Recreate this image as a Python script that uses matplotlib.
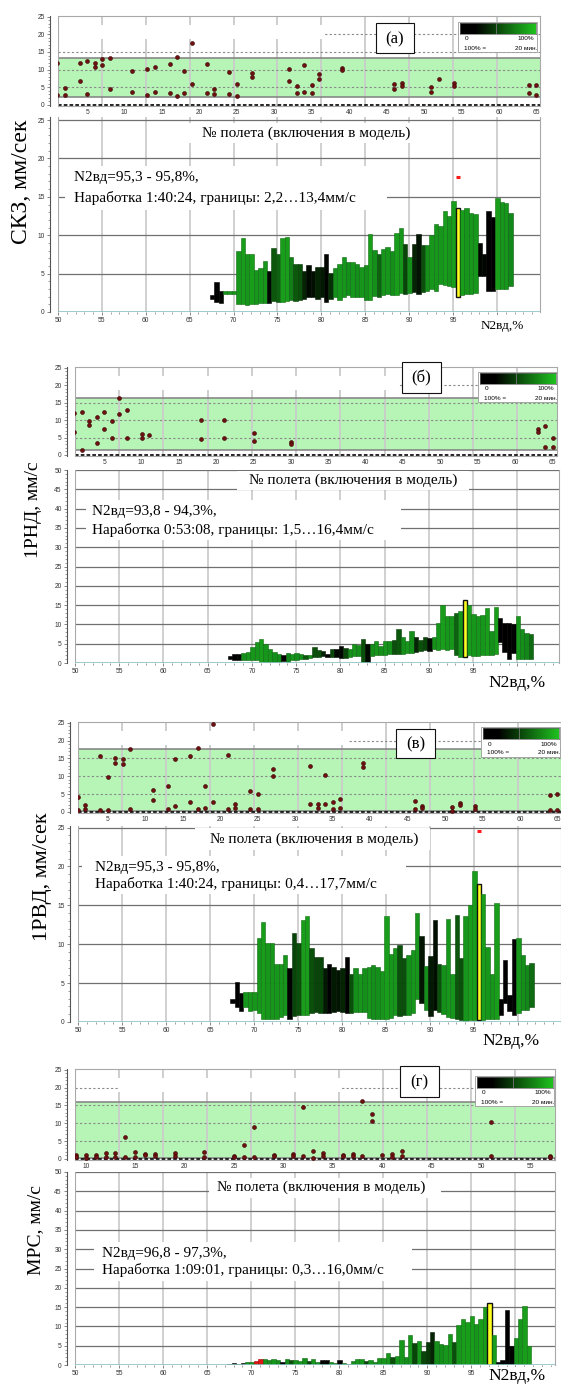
import numpy as np
import matplotlib
matplotlib.use('Agg')
import matplotlib.pyplot as plt
from matplotlib.patches import Rectangle
from matplotlib.colors import LinearSegmentedColormap
from matplotlib.ticker import MultipleLocator

# ---------------- DATA ----------------
# (а) СКЗ
a_flight = [1, 1, 2, 2, 4, 4, 5, 5, 6, 6, 7, 7, 8, 8, 11, 11, 13, 13, 14, 14, 16, 16, 17, 17, 18, 18,
            19, 19, 21, 21, 22, 22, 24, 24, 25, 25, 27, 27, 32, 32, 33, 33, 34, 34, 35, 35, 36, 36,
            39, 39, 46, 46, 47, 47, 51, 51, 52, 54, 54, 64, 64, 65, 65]
a_value = [12.0, 2.8, 4.7, 2.8, 12.0, 6.9, 12.5, 3.1, 12.0, 10.7, 12.9, 11.3, 13.2, 4.4, 9.5, 3.8,
           10.1, 2.9, 10.8, 3.7, 11.5, 3.3, 13.5, 2.5, 9.6, 3.3, 17.6, 6.0, 11.7, 3.3, 4.6, 3.1,
           9.3, 3.1, 5.9, 2.6, 9.0, 7.9, 10.1, 6.9, 5.5, 3.3, 11.2, 3.8, 5.6, 3.3, 8.8, 7.3,
           10.4, 9.9, 6.0, 4.4, 6.1, 5.5, 5.2, 3.8, 7.4, 6.1, 5.4, 5.6, 3.4, 5.6, 2.7]
a_bounds = (2.2, 13.4)
a_start = 67.3
a_hi = [2.2, 3.9, 2.8, 2.8, 2.8, 2.8, 7.9, 9.6, 7.6, 7.6, 5.5, 5.7, 6.6, 5.3, 8.4, 7.5, 9.6, 9.8,
        7.2, 6.3, 6.3, 5.3, 6.1, 5.3, 5.9, 5.8, 7.5, 5.1, 5.7, 6.2, 7.2, 6.5, 6.5, 6.3, 5.9, 6.1,
        10.2, 8.1, 7.6, 8.2, 8.5, 7.9, 10.3, 11.0, 8.8, 7.2, 8.9, 10.1, 8.7, 8.7, 10.0, 11.4, 11.2,
        13.1, 12.5, 14.5, 13.5, 13.3, 13.5, 12.9, 12.75, 9.0, 7.6, 13.2, 12.4, 14.8, 14.3, 14.2, 12.9]
a_lo = [1.75, 1.3, 1.2, 2.4, 2.4, 2.4, 1.1, 1.0, 0.96, 1.1, 1.1, 1.2, 1.2, 1.2, 1.4, 1.3, 1.3, 1.4,
        1.5, 1.4, 1.5, 1.75, 1.9, 2.0, 1.75, 2.0, 1.3, 1.75, 1.9, 1.5, 2.0, 2.2, 2.0, 2.0, 1.9, 1.6,
        1.6, 2.05, 2.0, 2.2, 2.3, 2.2, 2.2, 2.5, 2.4, 2.5, 2.6, 2.3, 2.6, 2.8, 3.0, 2.8, 3.6,
        3.5, 3.4, 3.3, 2.0, 2.2, 2.3, 2.4, 2.5, 4.7, 4.7, 2.75, 2.8, 3.0, 3.05, 3.0, 3.4]
a_time = [0.0, 0.0, 0.05, 0.9, 0.9, 0.9, 0.9, 0.95, 0.9, 0.95, 0.9, 0.9, 0.9, 0.05, 0.55, 0.6, 0.95, 0.95,
          0.75, 0.55, 0.5, 0.3, 0.1, 0.15, 0.3, 0.25, 0.05, 0.35, 0.85, 0.9, 0.9, 0.85, 0.9, 0.85, 0.9, 0.85,
          0.95, 0.85, 0.6, 0.9, 0.9, 0.85, 0.95, 0.9, 0.45, 0.85, 0.3, 0.2, 0.5, 0.85, 0.9, 0.9, 0.9,
          0.95, 0.9, 0.95, 1.0, 0.95, 0.9, 0.9, 0.9, 0.05, 0.05, 0.0, 0.0, 0.95, 0.9, 0.9, 0.8]
a_current = 56
a_marker = (95.55, 17.6)

# (б) 1РНД
b_flight = [1, 1, 2, 2, 3, 3, 4, 4, 5, 5, 6, 6, 7, 7, 8, 8, 10, 10, 11, 18, 18, 21, 21, 25, 25, 30, 30,
            63, 63, 64, 64, 65, 65]
b_value = [12.1, 6.7, 12.3, 1.4, 9.8, 8.7, 10.9, 3.5, 12.2, 7.3, 9.7, 5.0, 16.4, 11.7, 13.0, 5.0,
           6.1, 5.0, 5.8, 10.0, 4.5, 10.0, 5.0, 6.2, 4.0, 3.8, 3.1, 7.3, 6.7, 8.3, 2.2, 4.8, 2.2]
b_bounds = (1.5, 16.4)
b_start = 67.3
b_hi = [1.74, 2.26, 2.4, 2.6, 2.9, 4.2, 5.4, 6.1, 4.9, 3.5, 2.9, 2.4, 2.0, 2.7, 2.3, 2.7, 2.4, 2.0,
        2.2, 4.2, 3.3, 3.0, 2.4, 3.7, 3.6, 4.4, 3.9, 3.6, 4.9, 4.6, 6.1, 4.8, 4.8, 5.7, 4.4, 5.7,
        5.7, 5.9, 8.7, 6.8, 5.7, 8.3, 6.8, 5.9, 6.8, 6.6, 6.8, 10.3, 14.9, 12.2, 12.2, 13.0, 13.5,
        16.3, 14.9, 12.6, 12.2, 12.35, 14.2, 8.3, 14.5, 11.7, 10.3, 10.4, 10.0, 12.2, 8.8, 7.9, 7.5]
b_lo = [1.04, 0.7, 0.87, 0.87, 0.7, 0.7, 0.7, 0.26, 0.0, 0.0, 0.0, 0.17, 0.4, 0.26, 0.7, 0.87, 1.1, 1.1,
        1.4, 1.6, 1.6, 1.7, 1.6, 1.6, 1.6, 1.4, 1.4, 1.6, 1.7, 1.9, 0.0, 0.0, 1.8, 2.0, 2.0, 2.0,
        2.3, 2.3, 2.4, 2.4, 2.6, 2.7, 2.9, 3.0, 3.3, 3.1, 3.5, 3.3, 3.5, 3.3, 3.5, 2.0, 1.6,
        1.6, 2.0, 1.7, 1.7, 2.0, 2.0, 2.0, 2.3, 5.5, 2.9, 1.1, 2.6, 1.1, 1.1, 1.1, 1.1]
b_time = [0.0, 0.0, 0.05, 0.85, 0.9, 0.9, 0.9, 0.95, 0.9, 0.9, 0.85, 0.85, 0.0, 0.8, 0.9, 0.85, 0.85, 0.55,
          0.85, 0.5, 0.5, 0.3, 0.0, 0.45, 0.05, 0.05, 0.45, 0.85, 0.9, 0.85, 0.5, 0.1, 0.85, 0.9, 0.85, 0.9,
          0.85, 0.5, 0.55, 0.85, 0.9, 0.85, 0.3, 0.5, 0.45, 0.1, 0.85, 0.9, 0.95, 0.9, 0.9, 0.6, 0.9,
          1.0, 0.95, 0.9, 0.9, 0.9, 0.95, 0.85, 0.95, 0.0, 0.0, 0.0, 0.0, 0.9, 0.85, 0.8, 0.65]
b_current = 53

# (в) 1РВД
c_flight = [1, 1, 2, 2, 4, 4, 5, 5, 6, 6, 7, 7, 8, 8, 11, 11, 13, 13, 14, 14, 16, 16, 17, 17, 18, 18,
            19, 19, 21, 21, 22, 22, 24, 24, 25, 25, 27, 27, 32, 32, 33, 33, 34, 34, 35, 35, 36, 36,
            39, 39, 46, 46, 47, 47, 51, 51, 52, 52, 54, 54, 64, 64, 65, 65]
c_value = [4.1, 0.56, 1.9, 0.84, 15.7, 0.56, 9.7, 0.56, 15.0, 13.7, 14.9, 13.5, 17.6, 0.75, 6.2, 3.4,
           7.4, 0.75, 14.7, 1.6, 15.7, 2.9, 17.9, 0.75, 7.4, 1.0, 24.7, 2.7, 16.0, 0.84, 2.2, 1.0,
           5.9, 0.84, 5.1, 0.75, 12.0, 10.1, 12.9, 2.2, 2.2, 1.0, 10.4, 2.2, 2.9, 0.84, 3.6, 1.0,
           13.6, 12.5, 3.1, 0.84, 1.7, 1.2, 1.3, 0.37, 2.6, 1.9, 1.7, 0.84, 4.7, 0.56, 5.0, 0.56]
c_bounds = (0.4, 17.7)
c_start = 67.3
c_hi = [2.9, 5.2, 3.7, 3.8, 3.8, 3.8, 10.8, 12.9, 10.2, 10.1, 7.4, 7.5, 8.6, 7.0, 11.4, 10.1, 13.1, 13.6,
        9.5, 8.4, 8.3, 7.0, 7.5, 7.1, 6.75, 6.9, 8.3, 6.2, 6.9, 6.15, 6.9, 7.1, 7.3, 7.1, 6.5, 13.6,
        8.7, 9.5, 9.9, 8.2, 8.6, 9.25, 14.0, 11.05, 7.2, 8.5, 13.1, 7.4, 7.3, 13.2, 6.15, 13.8, 8.2,
        13.6, 15.0, 19.4, 17.7, 16.4, 9.6, 6.2, 15.35, 2.9, 8.0, 3.5, 10.7, 10.75, 8.6, 7.3, 7.6]
c_lo = [2.4, 1.9, 1.4, 1.9, 1.4, 1.5, 1.2, 0.43, 0.34, 0.34, 0.34, 0.65, 0.86, 0.34, 0.73, 0.86, 0.86, 0.86,
        1.16, 1.3, 1.2, 1.2, 1.16, 1.3, 1.4, 1.3, 1.1, 1.1, 1.3, 1.3, 1.3, 0.56, 0.43, 0.34, 0.43, 0.34,
        0.56, 0.86, 0.77, 0.86, 0.95, 1.1, 3.0, 2.4, 1.5, 0.77, 1.5, 1.3, 1.0, 0.65, 0.56, 0.34, 0.3,
        0.13, 0.3, 0.3, 0.3, 0.3, 0.43, 0.43, 0.43, 0.95, 2.4, 1.4, 0.95, 1.1, 1.5, 1.5, 1.9]
c_time = [0.0, 0.0, 0.0, 0.9, 0.9, 0.9, 0.9, 0.95, 0.9, 0.9, 0.9, 0.9, 0.9, 0.0, 0.45, 0.5, 0.95, 0.95,
          0.5, 0.45, 0.45, 0.25, 0.0, 0.25, 0.2, 0.3, 0.0, 0.5, 0.85, 0.9, 0.85, 0.9, 0.85, 0.85, 0.9, 0.95,
          0.9, 0.9, 0.5, 0.5, 0.85, 0.9, 0.9, 0.2, 0.85, 0.25, 0.15, 0.5, 0.85, 0.9, 0.9, 0.55, 0.5,
          0.9, 0.95, 0.95, 1.0, 0.95, 0.9, 0.9, 0.95, 0.0, 0.0, 0.0, 0.0, 0.9, 0.85, 0.8, 0.65]
c_current = 56
c_marker = (95.55, 24.5)

# (г) МРС
d_flight = [9, 9, 10, 10, 11, 11, 12, 12, 13, 13, 14, 14, 15, 15, 16, 16, 17, 17, 19, 19, 22, 22,
            25, 25, 26, 26, 27, 27, 29, 29, 31, 31, 32, 32, 33, 33, 34, 34, 36, 36, 37, 37, 38, 38,
            39, 39, 40, 41, 41, 42, 42, 51, 51, 57, 57]
d_value = [1.2, 0.56, 1.2, 0.3, 1.1, 0.56, 1.7, 0.56, 1.7, 0.56, 6.1, 0.56, 1.9, 0.56, 1.5, 1.0,
           1.5, 0.75, 1.7, 0.75, 1.9, 0.56, 0.94, 0.56, 4.0, 0.56, 8.9, 0.56, 1.2, 0.75, 1.5, 0.75,
           14.6, 0.94, 2.2, 0.3, 1.7, 0.94, 1.2, 0.75, 1.5, 0.75, 16.1, 0.75, 12.7, 10.6, 1.2,
           1.3, 0.56, 2.2, 0.94, 10.4, 0.75, 0.94, 0.56]
d_bounds = (0.3, 16.0)
d_start = 67.3
d_hi = [0.35, 0.5, 0.35, 0.5, 0.7, 0.7, 1.1, 1.5, 1.5, 1.3, 1.5, 1.3, 0.9, 1.6, 1.3, 1.3, 1.1, 1.8,
        1.1, 1.6, 0.9, 1.3, 1.3, 0.9, 0.5, 1.3, 0.6, 0.3, 1.1, 1.6, 1.6, 1.0, 1.4, 0.9, 1.9, 1.8,
        3.0, 2.1, 2.4, 6.5, 2.1, 7.9, 5.8, 6.3, 3.5, 5.9, 8.5, 6.2, 5.5, 5.1, 8.0, 6.0, 10.4,
        11.9, 11.2, 12.6, 10.6, 11.9, 14.9, 16.0, 7.9, 0.9, 1.3, 14.2, 4.9, 6.9, 12.0, 15.3, 5.0]
d_lo = [0.05, 0.05, 0.05, 0.05, 0.05, 0.05, 0.05, 0.05, 0.05, 0.05, 0.05, 0.05, 0.05, 0.05, 0.05, 0.05, 0.05, 0.05,
        0.05, 0.05, 0.05, 0.05, 0.05, 0.05, 0.05, 0.05, 0.05, 0.05, 0.05, 0.05, 0.05, 0.05, 0.05, 0.05, 0.05, 0.05,
        0.05, 0.05, 0.05, 0.05, 0.05, 0.05, 0.05, 0.05, 0.05, 0.05, 0.05, 0.05, 0.05, 0.05, 0.05, 0.05, 0.05,
        0.05, 0.05, 0.05, 0.05, 0.05, 0.05, 0.05, 0.05, 0.05, 0.05, 0.05, 0.05, 0.05, 0.05, 0.05, 0.05]
d_time = [0.0, 0.0, 0.45, 0.0, 0.85, 0.85, -1, -1, 0.9, 0.85, 0.9, 0.85, 0.0, 0.85, 0.5, 0.85, 0.9, 0.85,
          0.45, 0.9, 0.85, 0.0, 0.0, 0.85, 0.85, 0.0, 0.85, 0.9, 0.85, 0.9, 0.9, 0.45, 0.9, 0.85, 0.9, 0.9,
          0.9, 0.5, 0.9, 0.9, 0.85, 0.9, 0.45, 0.9, 0.45, 0.4, 0.3, 0.85, 0.85, 0.9, 0.9, 0.5, 0.9,
          0.95, 0.95, 0.95, 0.9, 0.95, 0.95, 1.0, 0.95, 0.0, 0.0, 0.0, 0.0, 0.9, 0.9, 0.95, 0.95]
d_current = 59

panel_letters = ['(а)', '(б)', '(в)', '(г)']
ylabels = ['СКЗ, мм/сек', '1РНД, мм/с', '1РВД, мм/сек', 'МРС, мм/с']
info_line1 = ['N2вд=95,3 - 95,8%,', 'N2вд=93,8 - 94,3%,', 'N2вд=95,3 - 95,8%,', 'N2вд=96,8 - 97,3%,']
info_line2 = ['Наработка 1:40:24, границы: 2,2…13,4мм/с',
              'Наработка 0:53:08, границы: 1,5…16,4мм/с',
              'Наработка 1:40:24, границы: 0,4…17,7мм/с',
              'Наработка 1:09:01, границы: 0,3…16,0мм/с']
flight_label = '№ полета (включения в модель)'
n2_label = 'N2вд,%'

# ---------------- STYLE / LAYOUT ----------------
W, H = 561, 1387
fig = plt.figure(figsize=(W / 100, H / 100), dpi=100)
fig.patch.set_facecolor('white')
SERIF = ['Liberation Serif', 'DejaVu Serif']
SANS = ['Liberation Sans', 'DejaVu Sans']
plt.rcParams['font.family'] = SANS

green = LinearSegmentedColormap.from_list(
    'g', [(0.0, '#000000'), (0.25, '#021a02'), (0.5, '#0a4f0a'), (0.8, '#12871a'), (1.0, '#1aa51a')])


def fbox(l, t, r, b):
    return [l / W, 1 - b / H, (r - l) / W, (b - t) / H]


def wrect(l, t, r, b, ec='none', lw=0.0, z=5):
    fig.add_artist(Rectangle((l / W, 1 - b / H), (r - l) / W, (b - t) / H, transform=fig.transFigure,
                             facecolor='white', edgecolor=ec, lw=lw, zorder=z))


def ftext(x, y, s, **kw):
    kw.setdefault('zorder', 7)
    fig.text(x / W, 1 - y / H, s, **kw)


def style_left(ax, minor):
    for s in ['top', 'right', 'bottom']:
        ax.spines[s].set_color('#a8a8a8')
        ax.spines[s].set_linewidth(0.8)
    ax.spines['left'].set_position(('outward', 6))
    ax.spines['left'].set_color('#555555')
    ax.spines['left'].set_linewidth(0.8)
    ax.yaxis.set_minor_locator(MultipleLocator(minor))
    ax.tick_params(axis='both', which='major', labelsize=4.8, length=2, width=0.5,
                   color='#555555', pad=1.5, labelcolor='#333333')
    ax.tick_params(axis='y', which='minor', length=1.2, width=0.4, color='#555555')


def top_panel(box, xlim, xticks, fl, val, bounds, bbox_px, n2lim, mask):
    l, t, r, b = box
    ax = fig.add_axes(fbox(*box))
    ax.set_xlim(*xlim)
    ax.set_ylim(-0.3, 25.2)
    # vertical grid aligned with the N2 grid of the chart below
    bl, br = bbox_px
    for v in range(55, 105, 5):
        px = bl + (v - n2lim[0]) / (n2lim[1] - n2lim[0]) * (br - bl)
        xv = xlim[0] + (px - l) / (r - l) * (xlim[1] - xlim[0])
        ax.axvline(xv, color='#cacaca', lw=1.3, zorder=1)
    ax.axhspan(bounds[0], bounds[1], facecolor='#b6f5b6', edgecolor='none', zorder=0.8)
    for v in [5, 10, 15, 20]:
        ax.axhline(v, color='#8a8a8a', lw=0.8, dashes=(2, 2), zorder=2)
    ax.axhline(bounds[0], color='#808080', lw=1.1, zorder=2.2)
    ax.axhline(bounds[1], color='#808080', lw=1.1, zorder=2.2)
    ax.axhline(0, color='#111111', lw=1.3, dashes=(2, 1.2), zorder=2.3)
    ax.add_patch(Rectangle((mask[0], 18.7), mask[1] - mask[0], 3.9, facecolor='white',
                           edgecolor='none', zorder=2.5))
    ax.axvline(xlim[0], color='#a8a8a8', lw=0.8, zorder=3)
    ax.scatter(fl, val, s=8, c='#6e1010', edgecolors='#3a0404', linewidths=0.4, zorder=6)
    ax.set_xticks(xticks)
    ax.set_yticks([0, 5, 10, 15, 20, 25])
    style_left(ax, 1)
    ax.tick_params(axis='x', length=0, pad=2)
    return ax


def bottom_panel(box, ylim, yticks, start, lo, hi, tfrac, cur, n2lim, minor, marker=None):
    ax = fig.add_axes(fbox(*box))
    ax.set_xlim(*n2lim)
    ax.set_ylim(*ylim)
    for v in range(55, 105, 5):
        ax.axvline(v, color='#cdcdcd', lw=1.3, zorder=0.5)
    for v in yticks[1:]:
        ax.axhline(v, color='#707070', lw=0.9, zorder=0.6)
    ax.axvline(n2lim[0], color='#a8a8a8', lw=0.8, zorder=0.7)
    lo = np.array(lo)
    hi = np.array(hi)
    x = start + 0.5 * np.arange(len(hi))
    cols, edges, lws = [], [], []
    for i, f in enumerate(tfrac):
        if i == cur:
            cols.append('#ffff22'); edges.append('#111111'); lws.append(1.0)
        elif f < 0:
            cols.append('#e01515'); edges.append('#a00000'); lws.append(0.4)
        else:
            c = np.array(green(f))
            cols.append(c); edges.append(c * np.array([0.7, 0.7, 0.7, 1])); lws.append(0.4)
    ax.bar(x, hi - lo, bottom=lo, width=0.5, align='edge', color=cols, edgecolor=edges,
           linewidth=lws, zorder=2)
    ax.axhline(0, color='#8cc3c3', lw=1.2, zorder=2.5)
    if marker is not None:
        ax.plot([marker[0] - 0.25, marker[0] + 0.25], [marker[1], marker[1]], color='#ff1a1a',
                lw=2.2, solid_capstyle='butt', zorder=4)
    ax.set_yticks(yticks)
    xt = list(range(50, 105, 5))
    ax.set_xticks(xt)
    # the label at 100 is hidden behind the axis title in the original
    ax.set_xticklabels([str(v) if v < 100 else '' for v in xt])
    ax.xaxis.set_minor_locator(MultipleLocator(1))
    style_left(ax, minor)
    ax.spines['top'].set_visible(False)
    ax.spines['bottom'].set_visible(False)
    ax.tick_params(axis='x', which='minor', length=1.2, width=0.4, color='#555555')
    return ax


def legend(l, t):
    wrect(l, t, l + 79, t + 30, ec='#9a9a9a', lw=0.6, z=5)
    lax = fig.add_axes(fbox(l + 2, t + 1, l + 78, t + 12))
    lax.set_zorder(6)
    grad = LinearSegmentedColormap.from_list(
        'lg', [(0.0, '#000000'), (0.2, '#000000'), (0.48, '#0a420a'), (1.0, '#1fc21f')])
    lax.imshow(np.linspace(0, 1, 256)[None, :], aspect='auto', cmap=grad, extent=(0, 1, 0, 1))
    lax.axvline(0.48, color='#777777', lw=0.6)
    lax.set_xticks([]); lax.set_yticks([])
    for s in lax.spines.values():
        s.set_color('#666666'); s.set_linewidth(0.5)
    ftext(l + 9, t + 17, '0', fontsize=4.6, ha='center', va='center', family=SANS)
    ftext(l + 68, t + 17, '100%', fontsize=4.6, ha='center', va='center', family=SANS)
    ftext(l + 17, t + 26, '100% =', fontsize=4.6, ha='center', va='center', family=SANS)
    ftext(l + 68, t + 26, '20 мин.', fontsize=4.6, ha='center', va='center', family=SANS)


def letter_box(l, t, r, b, s):
    wrect(l, t, r, b, ec='#111111', lw=0.8, z=5)
    ftext((l + r) / 2, (t + b) / 2 + 1, s, fontsize=12, ha='center', va='center', family=SERIF)


# ---------------- PANEL (а) ----------------
top_panel((58, 16, 540, 106), (1.1, 65.5), list(range(5, 66, 5)), a_flight, a_value, a_bounds,
          (58, 540), (50, 104.9), (1.1, 36.6))
bottom_panel((58, 117, 540, 312), (0, 25.4), [0, 5, 10, 15, 20, 25], a_start, a_lo, a_hi, a_time,
             a_current, (50, 104.9), 1, marker=a_marker)
legend(458, 22)
letter_box(376, 23, 414, 53, panel_letters[0])
wrect(160, 123, 425, 143)
ftext(306, 133, flight_label, fontsize=11, ha='center', va='center', family=SERIF)
wrect(65, 166, 387, 210)
ftext(74, 178, info_line1[0], fontsize=11, ha='left', va='center', family=SERIF)
ftext(74, 198, info_line2[0], fontsize=11, ha='left', va='center', family=SERIF)
wrect(474, 315, 530, 337)
ftext(502, 326, n2_label, fontsize=9.5, ha='center', va='center', family=SERIF)
ftext(22, 182, ylabels[0], fontsize=17, rotation=90, ha='center', va='center', family=SERIF)

# ---------------- PANEL (б) ----------------
top_panel((75, 367, 557, 456), (1.1, 65.6), list(range(5, 66, 5)), b_flight, b_value, b_bounds,
          (75, 559), (50, 104.7), (1.1, 44.5))
bottom_panel((75, 470, 559, 663), (0, 50), list(range(0, 51, 5)), b_start, b_lo, b_hi, b_time,
             b_current, (50, 104.7), 1)
legend(478, 372)
letter_box(402, 362, 441, 393, panel_letters[1])
wrect(237, 471, 469, 490)
ftext(353, 480, flight_label, fontsize=11, ha='center', va='center', family=SERIF)
wrect(86, 500, 401, 540)
ftext(92, 512, info_line1[1], fontsize=11, ha='left', va='center', family=SERIF)
ftext(92, 530, info_line2[1], fontsize=11, ha='left', va='center', family=SERIF)
wrect(484, 667, 552, 699)
ftext(517, 683, n2_label, fontsize=12.5, ha='center', va='center', family=SERIF)
ftext(34, 510, ylabels[1], fontsize=14, rotation=90, ha='center', va='center', family=SERIF)

# ---------------- PANEL (в) ----------------
top_panel((78, 722, 561, 813), (1.0, 65.5), list(range(5, 66, 5)), c_flight, c_value, c_bounds,
          (78, 561), (50, 104.9), (1.0, 37.2))
bottom_panel((78, 826, 561, 1022), (0, 25.2), [0, 5, 10, 15, 20, 25], c_start, c_lo, c_hi, c_time,
             c_current, (50, 104.9), 1, marker=c_marker)
legend(481, 727)
letter_box(396, 729, 435, 758, panel_letters[2])
wrect(195, 828, 430, 850)
ftext(314, 839, flight_label, fontsize=11, ha='center', va='center', family=SERIF)
wrect(82, 856, 406, 894)
ftext(95, 867, info_line1[2], fontsize=11, ha='left', va='center', family=SERIF)
ftext(95, 884, info_line2[2], fontsize=11, ha='left', va='center', family=SERIF)
wrect(476, 1028, 548, 1055)
ftext(511, 1041, n2_label, fontsize=12.5, ha='center', va='center', family=SERIF)
ftext(42, 877, ylabels[2], fontsize=16, rotation=90, ha='center', va='center', family=SERIF)

# ---------------- PANEL (г) ----------------
top_panel((75, 1069, 555, 1160), (8.9, 57.5), list(range(10, 56, 5)), d_flight, d_value, d_bounds,
          (75, 555), (50, 104.5), (13.3, 35.7))
bottom_panel((75, 1172, 555, 1365), (0, 50), list(range(0, 51, 5)), d_start, d_lo, d_hi, d_time,
             d_current, (50, 104.5), 1)
legend(475, 1076)
letter_box(400, 1066, 439, 1097, panel_letters[3])
wrect(209, 1178, 441, 1198)
ftext(321, 1187, flight_label, fontsize=11, ha='center', va='center', family=SERIF)
wrect(94, 1242, 412, 1281)
ftext(102, 1253, info_line1[3], fontsize=11, ha='left', va='center', family=SERIF)
ftext(102, 1270, info_line2[3], fontsize=11, ha='left', va='center', family=SERIF)
wrect(482, 1367, 552, 1387)
ftext(517, 1376, n2_label, fontsize=12.5, ha='center', va='center', family=SERIF)
ftext(36, 1230, ylabels[3], fontsize=14, rotation=90, ha='center', va='center', family=SERIF)

fig.savefig('out.png', dpi=100, facecolor='white')
